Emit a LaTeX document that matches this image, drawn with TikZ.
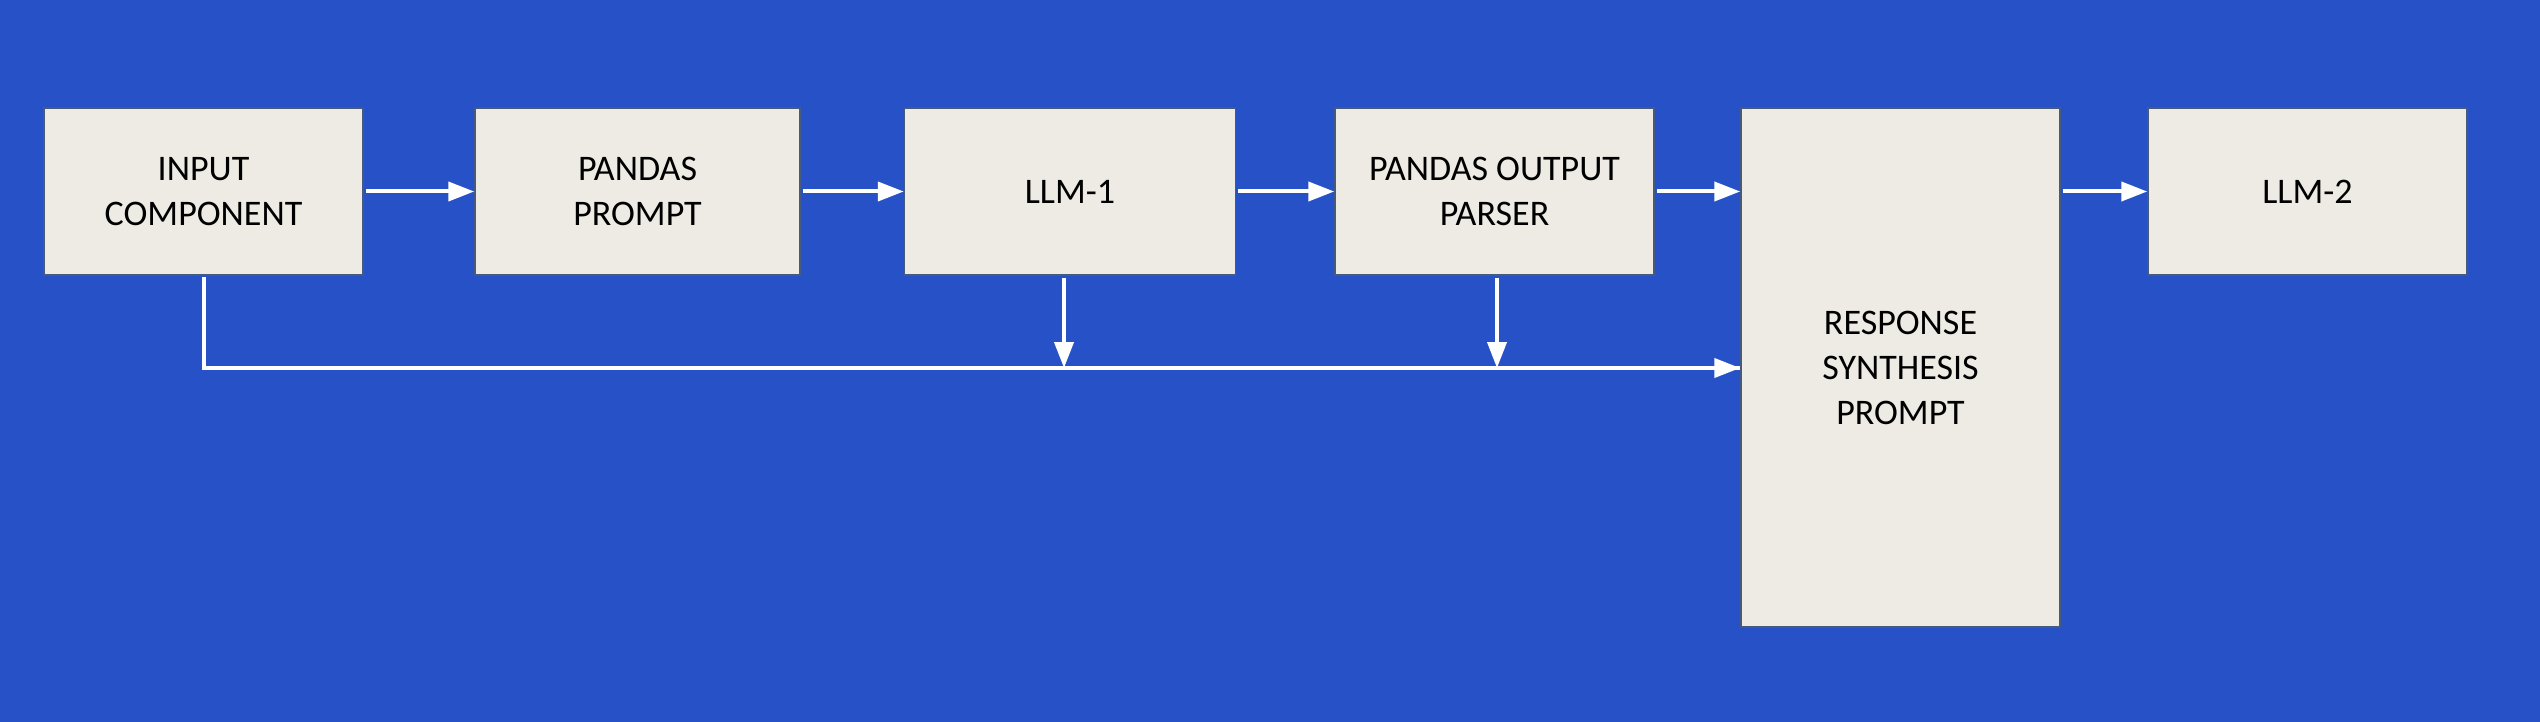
\documentclass[tikz,border=0pt]{standalone}
\usepackage{fontspec}
\setmainfont{Carlito}
\usetikzlibrary{arrows.meta}
\definecolor{bgblue}{RGB}{39,82,199}
\definecolor{boxfill}{RGB}{237,235,227}
\definecolor{boxline}{RGB}{70,90,125}
\tikzset{
  blk/.style={draw=boxline, line width=1.5pt, fill=boxfill, inner sep=0pt, align=center,
    font=\fontsize{36}{45}\selectfont, text=black},
  arr/.style={draw=white, line width=4pt, -{Triangle[length=26pt,width=19pt]}},
  wire/.style={draw=white, line width=4pt}
}
\begin{document}
\begin{tikzpicture}[x=1pt,y=-1pt]
\fill[bgblue] (0,0) rectangle (2540,722);
\useasboundingbox (0,0) rectangle (2540,722);
\node[blk, minimum width=319pt, minimum height=167pt] (inp) at (203.5,191.5) {INPUT\\COMPONENT};
\node[blk, minimum width=325pt, minimum height=167pt] (pp) at (637.5,191.5) {PANDAS\\PROMPT};
\node[blk, minimum width=331pt, minimum height=167pt] (llm1) at (1070,191.5) {LLM-1};
\node[blk, minimum width=319pt, minimum height=167pt] (pop) at (1494.5,191.5) {PANDAS OUTPUT\\PARSER};
\node[blk, minimum width=319pt, minimum height=519pt] (rsp) at (1900.5,367.5) {RESPONSE\\SYNTHESIS\\PROMPT};
\node[blk, minimum width=319pt, minimum height=167pt] (llm2) at (2307.5,191.5) {LLM-2};
\coordinate (bus) at (0,368);
\draw[arr] ([xshift=2pt]inp.east) -- (pp.west);
\draw[arr] ([xshift=2pt]pp.east) -- (llm1.west);
\draw[arr] ([xshift=2pt]llm1.east) -- (pop.west);
\draw[arr] ([xshift=2pt]pop.east) -- (pop.east -| rsp.west);
\draw[arr] ([xshift=2pt]rsp.east |- llm2.west) -- (llm2.west);
\draw[wire] ([yshift=-1pt]inp.south) -- (inp.south |- bus) -- (rsp.west |- bus);
\draw[arr] (rsp.west |- bus) ++(-1,0) -- (rsp.west |- bus);
\draw[arr] ([xshift=-6pt,yshift=-2pt]llm1.south) -- ([xshift=-6pt]llm1.south |- bus);
\draw[arr] ([xshift=2.5pt,yshift=-2pt]pop.south) -- ([xshift=2.5pt]pop.south |- bus);
\end{tikzpicture}
\end{document}
